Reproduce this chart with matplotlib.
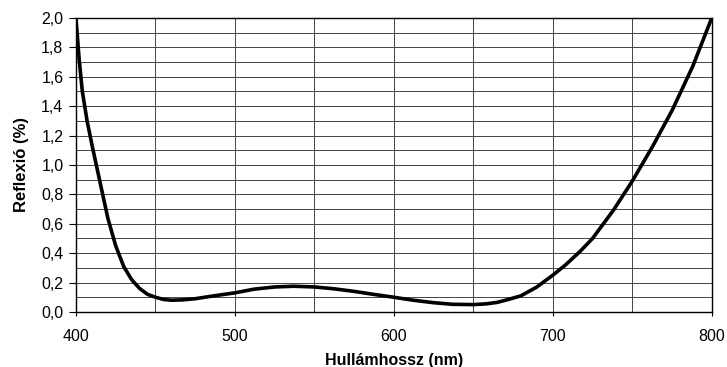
import matplotlib
matplotlib.use("Agg")
from matplotlib import pyplot as plt
from matplotlib.ticker import FuncFormatter, MultipleLocator

# wavelength (nm) and reflection (%)
wavelength = [400, 402, 404, 407, 410, 413, 416, 420, 425, 430, 435, 440, 445, 450,
              455, 460, 467, 475, 487, 500, 512, 525, 537, 550, 562, 575, 587, 600,
              612, 625, 637, 650, 658, 665, 672, 680, 690, 700,
              708, 717, 725, 738, 750, 763, 775, 788, 800]
reflection = [2.0, 1.72, 1.5, 1.3, 1.14, 0.99, 0.84, 0.64, 0.45, 0.31, 0.22, 0.16, 0.12, 0.1,
              0.085, 0.08, 0.082, 0.09, 0.11, 0.13, 0.155, 0.17, 0.175, 0.17, 0.158, 0.14, 0.12, 0.1,
              0.08, 0.063, 0.052, 0.05, 0.055, 0.065, 0.085, 0.11, 0.17, 0.25,
              0.32, 0.41, 0.5, 0.69, 0.89, 1.13, 1.37, 1.67, 2.0]

x_ticks = [400, 500, 600, 700, 800]
y_ticks = [0.0, 0.2, 0.4, 0.6, 0.8, 1.0, 1.2, 1.4, 1.6, 1.8, 2.0]

plt.rcParams['font.family'] = ['Liberation Sans', 'DejaVu Sans']

fig = plt.figure(figsize=(7.27, 3.67), dpi=100)
ax = fig.add_axes([0.1045, 0.150, 0.8745, 0.801])

ax.plot(wavelength, reflection, color='black', lw=2.6, solid_capstyle='round',
        solid_joinstyle='round', zorder=3)

ax.set_xlim(400, 800)
ax.set_ylim(0, 2.0)
ax.set_xticks(x_ticks)
ax.set_yticks(y_ticks)
ax.xaxis.set_minor_locator(MultipleLocator(50))
ax.yaxis.set_minor_locator(MultipleLocator(0.1))
ax.yaxis.set_major_formatter(FuncFormatter(lambda v, p: f"{v:.1f}".replace('.', ',')))

ax.grid(True, which='both', color='#444444', lw=0.7)
ax.tick_params(which='major', direction='out', length=5, width=0.8, labelsize=11.5, pad=4)
ax.tick_params(axis='x', which='major', length=3, pad=9)
ax.tick_params(which='minor', length=0)
for s in ax.spines.values():
    s.set_linewidth(1.0)

ax.set_xlabel('Hullámhossz (nm)', fontsize=11.5, fontweight='bold', labelpad=7)
ax.set_ylabel('Reflexió (%)', fontsize=12, fontweight='bold', labelpad=9)

fig.savefig('out.png', dpi=100)
